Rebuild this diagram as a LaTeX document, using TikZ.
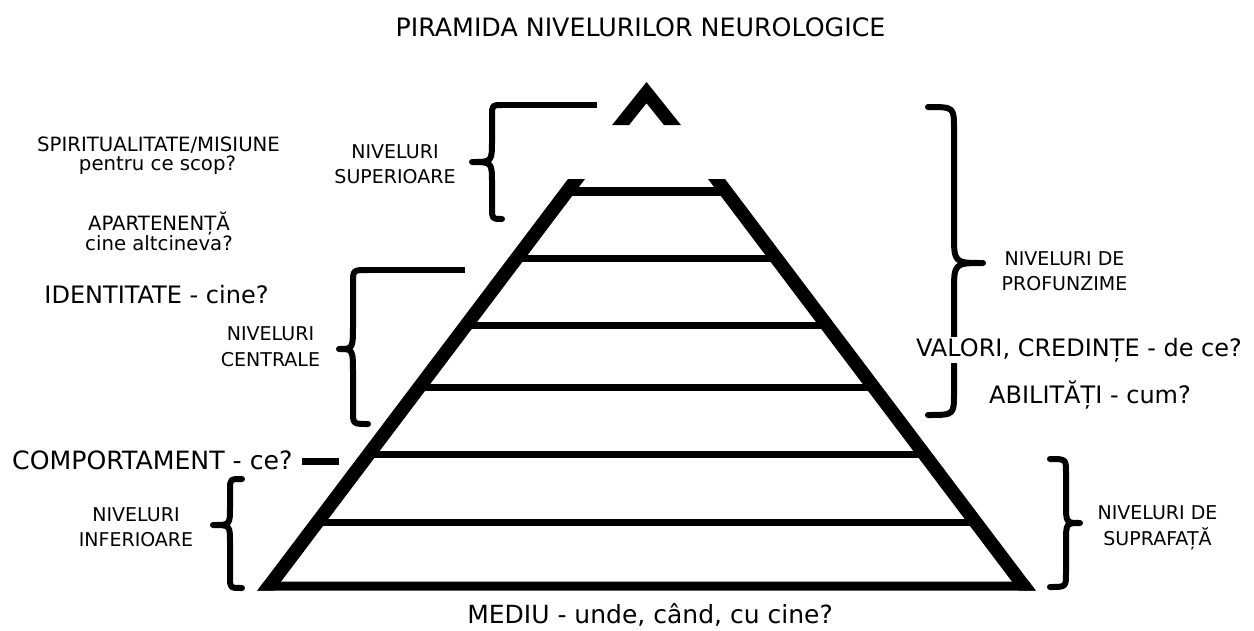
\documentclass[tikz,border=0pt]{standalone}
\usepackage{fontspec}
\setmainfont{DejaVu Sans}
\tikzset{
  titletxt/.style={font=\fontsize{25.3}{30}\selectfont, inner sep=0pt, anchor=base},
  bigtxt/.style={font=\fontsize{24}{28}\selectfont, inner sep=0pt, anchor=base},
  smalltxt/.style={font=\fontsize{19}{23}\selectfont, inner sep=0pt, anchor=base},
  lefttxt/.style={font=\fontsize{19.7}{23}\selectfont, inner sep=0pt, anchor=base},
  pyr/.style={fill=black, draw=none},
  rungline/.style={draw=black, line cap=butt},
  brc/.style={draw=black, line width=6pt, line cap=round, line join=round},
  arm/.style={draw=black, line width=5.5pt, line cap=butt},
}
\newcommand{\Brc}[8]{% xe xv xt yt ym yb re rt
  \draw[brc] (#1,#4) .. controls (#2,#4) .. (#2,#4+#7) -- (#2,#5-#8)
    .. controls (#2,#5) .. (#3,#5) .. controls (#2,#5) .. (#2,#5+#8)
    -- (#2,#6-#7) .. controls (#2,#6) .. (#1,#6);}
\begin{document}
\begin{tikzpicture}[x=1pt,y=-1pt]
\useasboundingbox[fill=white] (0,0) rectangle (1254,630);

% title
\node[titletxt] (title) at (640.5,36.7) {PIRAMIDA NIVELURILOR NEUROLOGICE};

% rungs
\foreach \yy/\ww [count=\i] in {191.5/9, 258/7, 325/7, 387/7, 454/7, 522/7}
  \draw[rungline, line width=\ww pt] ({576.5-0.755*(\yy-179)},\yy) -- ({716.5+0.755*(\yy-179)},\yy);

% pyramid frame
\fill[pyr] (568,179) -- (585,179) -- ({585-0.755*411.7},590.7) -- ({568-0.755*411.7},590.7) -- cycle;
\fill[pyr] (725,179) -- (708,179) -- ({708+0.755*411.7},590.7) -- ({725+0.755*411.7},590.7) -- cycle;
\fill[pyr] ({568-0.755*411.7},590.7) -- ({725+0.755*411.7},590.7) -- ({725+0.755*402.7},581.7) -- ({568-0.755*402.7},581.7) -- cycle;
% apex
\fill[pyr] (612.1,125) -- (646.5,82) -- (680.9,125) -- (663.9,125) -- (646.5,103.2) -- (629.1,125) -- cycle;

% braces
\Brc{502}{492}{472}{105}{162}{219}{11}{22}
\draw[arm] (502,105) -- (597,105);
\Brc{368}{353}{339}{270}{349}{424}{13}{25}
\draw[arm] (366,270) -- (465,270);
\Brc{242}{230}{213}{479}{525}{588}{11}{18}
\Brc{928}{954}{983}{107}{263}{415}{22}{30}
\Brc{1050}{1066}{1080}{459}{523}{587}{14}{20}
\draw[arm, line width=7pt] (302,461) -- (339,461);

% left texts
\node[lefttxt] (spir) at (158.5,151.7) {SPIRITUALITATE/MISIUNE};
\node[lefttxt] (spirq) at (157.5,170) {pentru ce scop?};
\node[lefttxt] (apart) at (159,230) {APARTENENȚĂ};
\node[lefttxt] (apartq) at (159,250.7) {cine altcineva?};
\node[bigtxt] (ident) at (156.5,303.3) {IDENTITATE - cine?};
\node[bigtxt, font=\fontsize{25.2}{28}\selectfont] (comp) at (152.4,469.3) {COMPORTAMENT - ce?};

\node[smalltxt] (sup1) at (395,158.3) {NIVELURI};
\node[smalltxt] (sup2) at (395,183.3) {SUPERIOARE};
\node[smalltxt] (cen1) at (270.5,340.7) {NIVELURI};
\node[smalltxt] (cen2) at (270.5,366.7) {CENTRALE};
\node[smalltxt] (inf1) at (136,521.7) {NIVELURI};
\node[smalltxt] (inf2) at (136,546.7) {INFERIOARE};

% right texts
\node[smalltxt] (pro1) at (1064.5,265) {NIVELURI DE};
\node[smalltxt] (pro2) at (1064.5,290) {PROFUNZIME};
\node[bigtxt, fill=white, inner sep=1pt] (val) at (1079,356.7) {VALORI, CREDINȚE - de ce?};
\node[bigtxt] (abil) at (1090,403.3) {ABILITĂȚI - cum?};
\node[smalltxt] (sp1) at (1157.5,519) {NIVELURI DE};
\node[smalltxt] (sp2) at (1157.5,545) {SUPRAFAȚĂ};

% bottom
\node[bigtxt, font=\fontsize{25}{28}\selectfont] (mediu) at (650,623.3) {MEDIU - unde, când, cu cine?};
\end{tikzpicture}
\end{document}
